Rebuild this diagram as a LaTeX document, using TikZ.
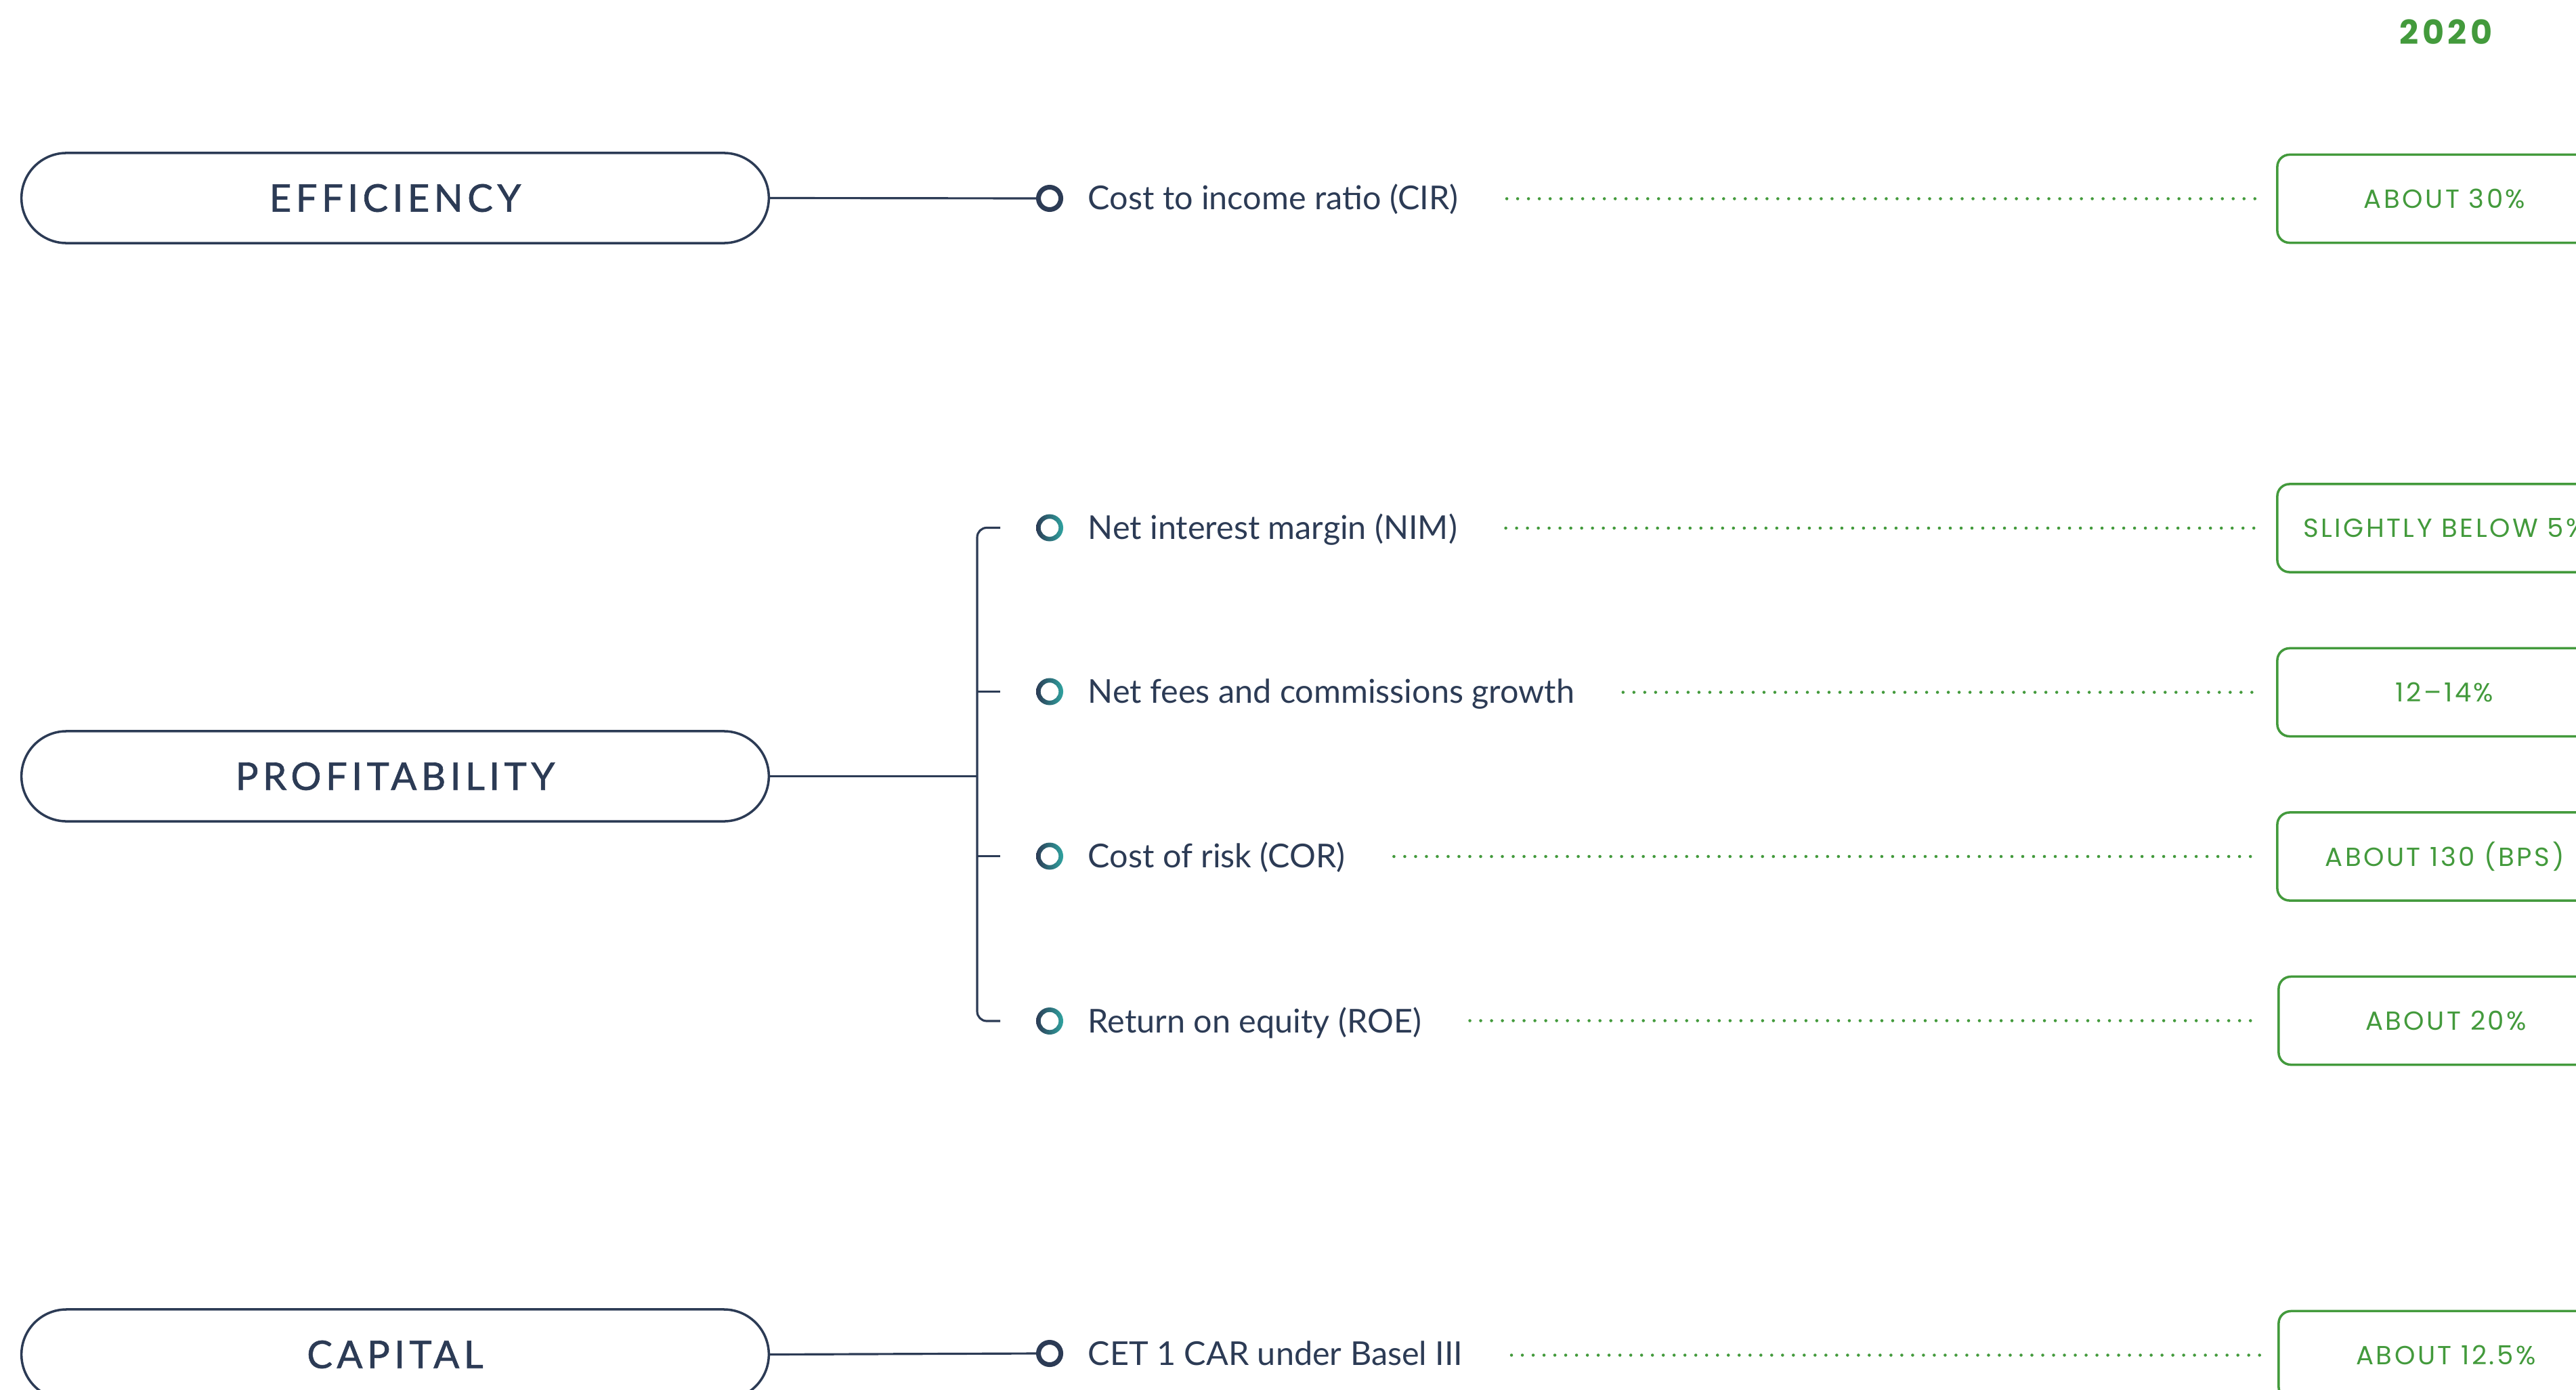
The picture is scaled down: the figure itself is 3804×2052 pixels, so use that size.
\documentclass[tikz,border=0pt]{standalone}
\usepackage{fontspec}
\setmainfont{Lato}
\newfontfamily\pillfont[LetterSpace=11.5,FakeBold=1.2]{Lato}
\newfontfamily\greenfont[LetterSpace=9]{Poppins}
\newfontfamily\yearfont[LetterSpace=11]{Poppins}
\usetikzlibrary{calc}
\definecolor{navy}{HTML}{2C3B55}
\definecolor{grn}{HTML}{439A3C}
\definecolor{tealc}{HTML}{2FA3A0}
\tikzset{
  pill/.style={draw=navy, line width=1pt, rounded corners=0.665cm, minimum width=11.03cm, minimum height=1.33cm, inner sep=0pt, text=navy, font=\pillfont\fontsize{16}{19}\selectfont},
  metric/.style={anchor=base west, inner sep=0pt, text=navy, font=\fontsize{13.8}{17}\selectfont},
  valbox/.style={draw=grn, line width=1pt, rounded corners=0.18cm, minimum width=4.94cm, minimum height=1.30cm, inner sep=0pt, text=grn, font=\greenfont\fontsize{11}{13}\selectfont},
  yearlab/.style={inner sep=0pt, text=grn, font=\yearfont\bfseries\fontsize{14}{16}\selectfont},
  dotline/.style={grn, line width=1.3pt, line cap=round, dash pattern=on 0pt off 0.16cm},
  conn/.style={navy, line width=0.9pt},
  ring/.style={circle, draw=navy, line width=2pt, minimum size=0.33cm, inner sep=0pt},
  gring/.style={circle, minimum size=0.40cm, inner sep=0pt}
}
\begin{document}
\begin{tikzpicture}[x=0.01cm,y=-0.01cm]
\useasboundingbox (0,0) rectangle (3804,2052);
\node[yearlab] (yr) at (3612,47) {2020};
% category pills
\node[pill] (eff) at (583.5,292.5) {EFFICIENCY};
\node[pill] (prof) at (583.5,1146.5) {PROFITABILITY};
\node[pill] (cap) at (583.5,2000.5) {CAPITAL};
% circles
\node[ring] (c1) at (1550,293) {};
\node[gring] (c2) at (1550,779.5) {};
\node[gring] (c3) at (1550,1021.5) {};
\node[gring] (c4) at (1550,1264.5) {};
\node[gring] (c5) at (1550,1508) {};
\node[ring] (c6) at (1550,1999) {};
\foreach \n in {c2,c3,c4,c5}
  \shade[left color=navy, right color=tealc, even odd rule] (\n.center) circle (0.2cm) (\n.center) circle (0.133cm);
% metric texts
\node[metric] (t1) at (1606,310) {Cost to income ratio (CIR)};
\node[metric] (t2) at (1606,796.5) {Net interest margin (NIM)};
\node[metric] (t3) at (1606,1038.5) {Net fees and commissions growth};
\node[metric] (t4) at (1606,1281.5) {Cost of risk (COR)};
\node[metric] (t5) at (1606,1525) {Return on equity (ROE)};
\node[metric] (t6) at (1606,2016) {CET 1 CAR under Basel III};
% value boxes
\node[valbox] (b1) at (3610,293.5) {ABOUT 30\%};
\node[valbox] (b2) at (3610,780) {SLIGHTLY BELOW 5\%};
\node[valbox] (b3) at (3610,1022.5) {12–14\%};
\node[valbox] (b4) at (3610,1265) {ABOUT 130 (BPS)};
\node[valbox] (b5) at (3612,1507.5) {ABOUT 20\%};
\node[valbox] (b6) at (3612,2001.5) {ABOUT 12.5\%};
% connectors
\draw[conn] (eff.east) -- (c1.west);
\draw[conn] (cap.east) -- (c6.west);
\coordinate (bx) at (1443,1146.5);
\coordinate (k1) at (1477,779.5);
\coordinate (k2) at (1477,1021.5);
\coordinate (k3) at (1477,1264.5);
\coordinate (k4) at (1477,1508);
\draw[conn] (prof.east) -- (bx);
\draw[conn, rounded corners=0.14cm] (k1) -- (k1 -| bx) -- (k4 -| bx) -- (k4);
\draw[conn] (k2 -| bx) -- (k2);
\draw[conn] (k3 -| bx) -- (k3);
% dotted leaders
\foreach \i in {1,...,6}
  \draw[dotline] ($(t\i.east |- b\i.west)+(71,0)$) -- ($(b\i.west)+(-25,0)$);
\end{tikzpicture}
\end{document}
